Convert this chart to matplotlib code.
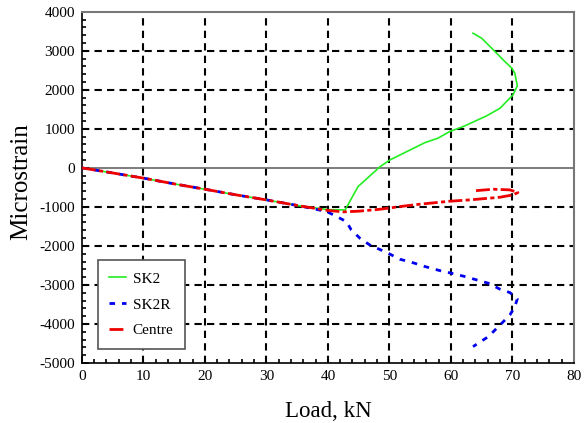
import matplotlib
matplotlib.use("Agg")
import matplotlib.pyplot as plt
from matplotlib.ticker import MultipleLocator

plt.rcParams['font.family'] = ['Liberation Serif', 'DejaVu Serif']
plt.rcParams['axes.unicode_minus'] = False

# Centre (red)
centre_load = [0, 5, 10.1, 15, 20, 25, 30, 35.4, 40, 42.5, 45, 48.5, 51.7, 55, 59.8, 63.1, 68.0, 70.1, 70.9, 69.6, 66.9, 63.6]
centre_strain = [0, -130, -265, -410, -547, -690, -821, -974, -1090, -1128, -1110, -1060, -992, -930, -855, -820, -752, -692, -632, -564, -547, -590]

# SK2 (green)
sk2_load = [0, 5, 10.1, 15, 20, 25, 30, 35.4, 40, 42.8, 44.9, 48.5, 50.1, 55.8, 57.9, 59.8, 62.0, 65.8, 68.0, 70.1, 70.8, 70.4, 69.9, 68.5, 66.9, 65.0, 63.6]
sk2_strain = [0, -130, -265, -410, -547, -690, -821, -974, -1070, -1077, -479, 33, 205, 649, 761, 931, 1059, 1333, 1530, 1872, 2103, 2427, 2556, 2769, 3026, 3325, 3453]

# SK2R (blue)
sk2r_load = [0, 5, 10.1, 15, 20, 25, 30, 35.4, 39.8, 40.9, 43.0, 43.8, 45.2, 46.8, 49.8, 51.7, 54.1, 55.8, 58.2, 60.1, 62.3, 64.2, 66.1, 68.0, 69.6, 70.8, 70.4, 69.6, 68.0, 66.1, 63.6]
sk2r_strain = [0, -130, -265, -410, -547, -690, -821, -974, -1120, -1205, -1376, -1590, -1803, -1974, -2188, -2341, -2444, -2530, -2633, -2701, -2786, -2872, -2957, -3111, -3197, -3359, -3556, -3769, -4026, -4325, -4582]

fig = plt.figure(figsize=(5.85, 4.23), dpi=100)
ax = fig.add_axes([0.140, 0.142, 0.841, 0.830])

ax.plot(sk2_load, sk2_strain, color='#22ee22', lw=1.2, label='SK2', zorder=3)
ax.plot(sk2r_load, sk2r_strain, color='#0000ee', lw=2, linestyle=(0, (2, 2.5)), label='SK2R', zorder=4)
ax.plot(centre_load, centre_strain, color='#ee0000', lw=2, linestyle=(0, (5, 1.2, 1.5, 1.2)), label='Centre', zorder=5)

ax.set_xlim(0, 80)
ax.set_ylim(-5000, 4000)
ax.xaxis.set_major_locator(MultipleLocator(10))
ax.xaxis.set_minor_locator(MultipleLocator(2))
ax.yaxis.set_major_locator(MultipleLocator(1000))
ax.yaxis.set_minor_locator(MultipleLocator(200))
ax.tick_params(which='both', direction='in', top=False, right=False, labelsize=11, width=1.2)
ax.tick_params(which='major', length=5, pad=5)
ax.tick_params(which='minor', length=3)

for y in range(-4000, 4000, 1000):
    if y == 0:
        continue
    ax.axhline(y, color='black', lw=1.5, linestyle=(0, (3.5, 2.5)), zorder=1)
for x in range(10, 80, 10):
    ax.axvline(x, color='black', lw=1.5, linestyle=(0, (3.5, 2.5)), zorder=1)
ax.axhline(0, color='#666666', lw=1.2, zorder=1)

for s in ['left', 'bottom']:
    ax.spines[s].set_color('black')
    ax.spines[s].set_linewidth(1.2)
for s in ['top', 'right']:
    ax.spines[s].set_color('#777777')
    ax.spines[s].set_linewidth(1.5)

ax.set_xlabel('Load, kN', fontsize=16.5, labelpad=13)
ax.set_ylabel('Microstrain', fontsize=18)
ax.yaxis.set_label_coords(-0.100, 0.516)

leg = ax.legend(loc='lower left', bbox_to_anchor=(0.032, 0.04), fontsize=11,
                handlelength=1.1, labelspacing=0.8, borderpad=0.75, handletextpad=0.45,
                borderaxespad=0, fancybox=False, framealpha=1, edgecolor='#555555')
leg.get_frame().set_linewidth(1.2)
leg.set_zorder(10)

fig.savefig('out.png', dpi=100)
